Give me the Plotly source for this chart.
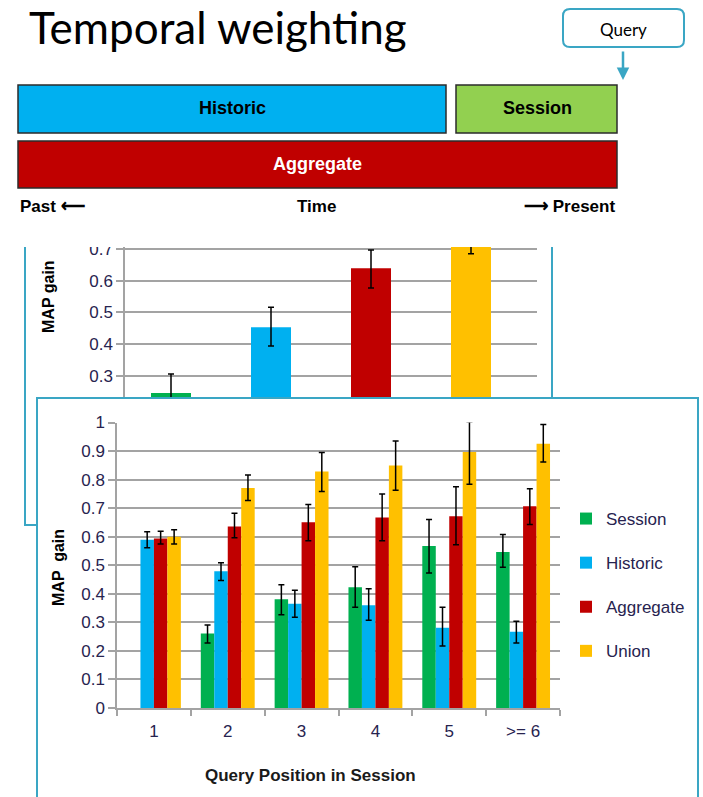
import plotly.graph_objects as go

W, H = 703, 797

# ---------------- data ----------------
categories = ["1", "2", "3", "4", "5", ">= 6"]
series_names = ["Session", "Historic", "Aggregate", "Union"]
session_vals = [None, 0.261, 0.381, 0.423, 0.567, 0.546]
session_up = [0, 0.030, 0.051, 0.072, 0.093, 0.062]
session_dn = [0, 0.033, 0.054, 0.070, 0.094, 0.053]
historic_vals = [0.589, 0.479, 0.365, 0.360, 0.281, 0.267]
historic_up = [0.028, 0.030, 0.047, 0.058, 0.072, 0.037]
historic_dn = [0.028, 0.032, 0.047, 0.053, 0.064, 0.039]
aggregate_vals = [0.594, 0.636, 0.651, 0.667, 0.672, 0.707]
aggregate_up = [0.025, 0.046, 0.062, 0.083, 0.103, 0.061]
aggregate_dn = [0.020, 0.040, 0.065, 0.081, 0.100, 0.064]
union_vals = [0.600, 0.771, 0.828, 0.849, 0.897, 0.926]
union_up = [0.024, 0.045, 0.067, 0.086, 0.106, 0.067]
union_dn = [0.026, 0.044, 0.070, 0.086, 0.113, 0.064]

bg_positions = [0, 1, 2, 3]
bg_vals = [0.245, 0.453, 0.639, 0.745]
bg_up = [0.060, 0.063, 0.058, 0.060]
bg_dn = [0.060, 0.059, 0.062, 0.060]

y_ticks_main = [0, 0.1, 0.2, 0.3, 0.4, 0.5, 0.6, 0.7, 0.8, 0.9, 1]
y_ticklabels_main = ["0", "0.1", "0.2", "0.3", "0.4", "0.5", "0.6", "0.7", "0.8", "0.9", "1"]
y_ticks_bg = [0.3, 0.4, 0.5, 0.6, 0.7]
y_ticklabels_bg = ["0.3", "0.4", "0.5", "0.6", "0.7"]

colors = {"Session": "#00b050", "Historic": "#00b0f0", "Aggregate": "#c00000", "Union": "#ffc000"}
NAVY = "#27234f"
GRID = "#a3a3a3"
TEAL = "#3aa6c4"
FONT = "Liberation Sans, Arial, sans-serif"


def px(x):
    return x / W


def py(y):
    return 1 - y / H


fig = go.Figure()

# ---------- background (cropped) chart ----------
fig.add_trace(go.Bar(
    x=bg_positions, y=bg_vals, width=0.4,
    marker=dict(color=[colors[n] for n in series_names], line=dict(width=0)),
    error_y=dict(type="data", array=bg_up, arrayminus=bg_dn, color="black", thickness=1.5, width=3),
    xaxis="x2", yaxis="y2", showlegend=False, hoverinfo="skip",
))

# ---------- main chart ----------
series = [
    ("Session", session_vals, session_up, session_dn),
    ("Historic", historic_vals, historic_up, historic_dn),
    ("Aggregate", aggregate_vals, aggregate_up, aggregate_dn),
    ("Union", union_vals, union_up, union_dn),
]
for name, vals, up, dn in series:
    fig.add_trace(go.Bar(
        x=categories, y=vals, name=name, legendgroup=name,
        marker=dict(color=colors[name], line=dict(width=0)),
        error_y=dict(type="data", array=up, arrayminus=dn, color="black", thickness=1.5, width=3),
        xaxis="x", yaxis="y",
    ))

shapes = []
annotations = []

# bg chart box lines
shapes.append(dict(type="path", xref="paper", yref="paper",
                   path=f"M {px(25)},{py(247)} L {px(25)},{py(525)} L {px(37)},{py(525)}",
                   line=dict(color=TEAL, width=2)))
shapes.append(dict(type="line", xref="paper", yref="paper",
                   x0=px(552), x1=px(552), y0=py(247), y1=py(398),
                   line=dict(color=TEAL, width=2)))
# main box
shapes.append(dict(type="rect", xref="paper", yref="paper",
                   x0=px(37), x1=px(698), y0=py(398), y1=py(830),
                   line=dict(color=TEAL, width=2), fillcolor="rgba(0,0,0,0)"))
# crop cover for the top of bg chart
shapes.append(dict(type="rect", xref="paper", yref="paper", layer="above",
                   x0=px(60), x1=px(120), y0=py(247), y1=py(228),
                   line=dict(width=0), fillcolor="white"))

# diagram bars
shapes.append(dict(type="rect", xref="paper", yref="paper",
                   x0=px(18), x1=px(446), y0=py(133), y1=py(85),
                   line=dict(color="#2b2b2b", width=1.5), fillcolor="#00b0f0"))
shapes.append(dict(type="rect", xref="paper", yref="paper",
                   x0=px(456), x1=px(617), y0=py(133), y1=py(85),
                   line=dict(color="#2b2b2b", width=1.5), fillcolor="#92d050"))
shapes.append(dict(type="rect", xref="paper", yref="paper",
                   x0=px(18), x1=px(617), y0=py(188), y1=py(141),
                   line=dict(color="#2b2b2b", width=1.5), fillcolor="#c00000"))

# Query rounded box
x0, x1, y0, y1, r = 563, 684, 9, 47, 7
p = (f"M {px(x0 + r)},{py(y0)} L {px(x1 - r)},{py(y0)} Q {px(x1)},{py(y0)} {px(x1)},{py(y0 + r)} "
     f"L {px(x1)},{py(y1 - r)} Q {px(x1)},{py(y1)} {px(x1 - r)},{py(y1)} "
     f"L {px(x0 + r)},{py(y1)} Q {px(x0)},{py(y1)} {px(x0)},{py(y1 - r)} "
     f"L {px(x0)},{py(y0 + r)} Q {px(x0)},{py(y0)} {px(x0 + r)},{py(y0)} Z")
shapes.append(dict(type="path", xref="paper", yref="paper", path=p,
                   line=dict(color=TEAL, width=2), fillcolor="white"))


def txt(x, y, s, size=17, color="black", xanchor="center", family=FONT, angle=0):
    annotations.append(dict(x=px(x), y=py(y), xref="paper", yref="paper", text=s,
                            showarrow=False, xanchor=xanchor, yanchor="middle",
                            textangle=angle, font=dict(size=size, color=color, family=family)))


txt(27, 27, "Temporal weighting", size=44, xanchor="left", family="Lato, Open Sans, sans-serif")
txt(623, 29, "Query", size=17, family="Lato, Open Sans, sans-serif")
annotations.append(dict(x=px(623), y=py(80), ax=0, ay=-30, xref="paper", yref="paper",
                        text="", showarrow=True, arrowhead=2, arrowsize=1, arrowwidth=2.5,
                        arrowcolor=TEAL))
txt(232, 108, "<b>Historic</b>", size=18)
txt(537, 108, "<b>Session</b>", size=18)
txt(317, 164, "<b>Aggregate</b>", size=18, color="white")
txt(18, 207, "<b>Past ⟵</b>", xanchor="left")
txt(316, 207, "<b>Time</b>")
txt(617, 207, "<b>⟶ Present</b>", xanchor="right")

txt(48, 297, "<b>MAP gain</b>", size=16, angle=-90)
txt(58, 568, "<b>MAP  gain</b>", size=16, angle=-90)
txt(310, 775, "<b>Query Position in Session</b>", size=17, color="#1a1a1a")

axis_common = dict(showgrid=True, gridcolor=GRID, gridwidth=1.5, showline=True,
                   linecolor=GRID, linewidth=1.5, ticks="outside", ticklen=7,
                   tickcolor=GRID, tickwidth=1.5, zeroline=False, automargin=False,
                   tickfont=dict(family=FONT, size=17, color=NAVY))

fig.update_layout(
    width=W, height=H, margin=dict(l=0, r=0, t=0, b=0, autoexpand=False),
    paper_bgcolor="white", plot_bgcolor="white",
    barmode="group", bargap=0.27, bargroupgap=0,
    showlegend=True,
    legend=dict(x=px(566), y=py(501), xanchor="left", yanchor="top",
                font=dict(family=FONT, size=17, color=NAVY),
                tracegroupgap=19, itemwidth=30, bgcolor="rgba(0,0,0,0)"),
    xaxis=dict(domain=[px(117), px(560)], anchor="y", type="category", automargin=False,
               showgrid=False, showline=True, linecolor=GRID, linewidth=1.5,
               ticks="outside", tickson="boundaries", ticklen=6, tickcolor=GRID, tickwidth=1.5,
               ticklabelstandoff=7,
               tickfont=dict(family=FONT, size=17, color=NAVY)),
    yaxis=dict(domain=[py(708), py(422.5)], anchor="x", range=[0, 1],
               tickvals=y_ticks_main, ticktext=y_ticklabels_main, **axis_common),
    xaxis2=dict(domain=[px(125), px(537)], anchor="y2", range=[-0.46, 3.66], automargin=False,
                showgrid=False, showline=False, showticklabels=False, zeroline=False),
    yaxis2=dict(domain=[py(398), py(247)], anchor="x2", range=[0.2294, 0.7063],
                tickvals=y_ticks_bg, ticktext=y_ticklabels_bg, **axis_common),
    shapes=shapes, annotations=annotations,
)

# pin the graph to the page's top-left corner (no default body margin / scrollbars)
post = ("document.body.style.margin='0';document.body.style.overflow='hidden';"
        "var gd=document.getElementById('{plot_id}');"
        "gd.style.position='absolute';gd.style.left='0px';gd.style.top='0px';")

fig.write_html("out.html", post_script=post, config={"displayModeBar": False})
